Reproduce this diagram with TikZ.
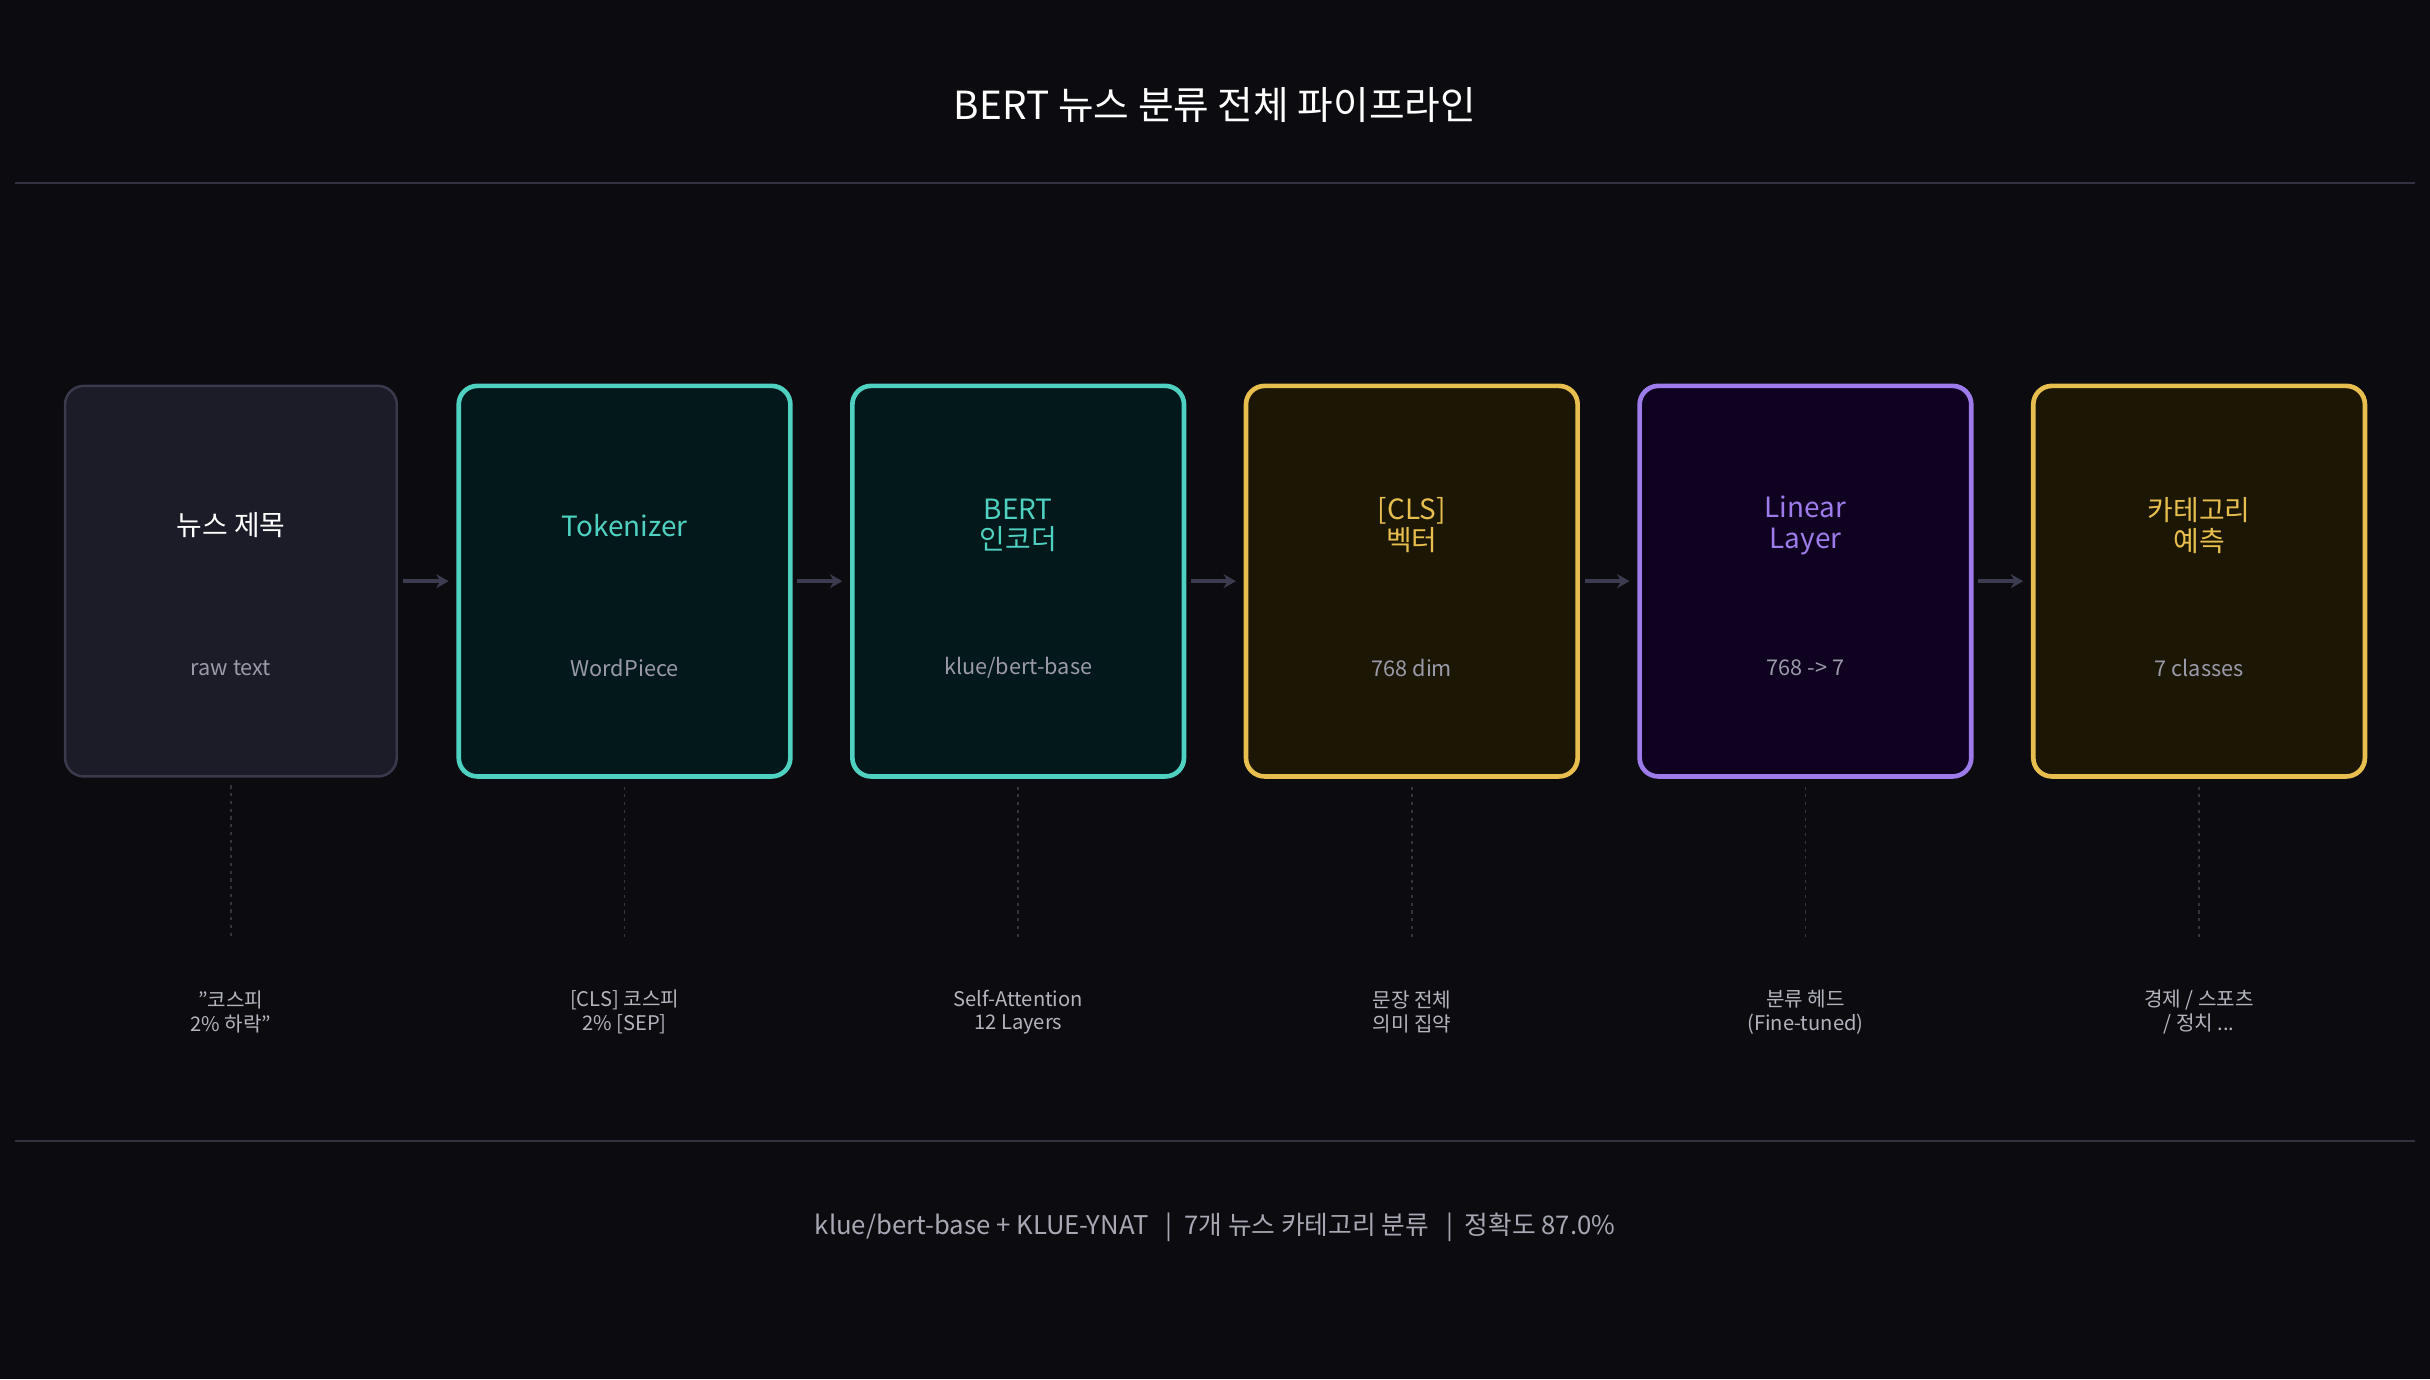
\documentclass[tikz,border=0pt]{standalone}
\usepackage{fontspec}
\setmainfont{Noto Sans CJK KR}
\usetikzlibrary{arrows.meta}
\definecolor{bgc}{HTML}{0B0B10}
\definecolor{rulec}{HTML}{33333F}
\definecolor{grayfill}{HTML}{1C1C28}
\definecolor{grayedge}{HTML}{3A3A4C}
\definecolor{tealc}{HTML}{4FD1C1}
\definecolor{tealfill}{HTML}{02181A}
\definecolor{yelc}{HTML}{E8BF4F}
\definecolor{yelfill}{HTML}{1C1705}
\definecolor{purc}{HTML}{9D7BEA}
\definecolor{purfill}{HTML}{0E0220}
\definecolor{subc}{HTML}{9A9AA8}
\definecolor{labc}{HTML}{B4B4BE}
\definecolor{footc}{HTML}{A8A8B4}
\definecolor{arrc}{HTML}{3C3C50}
\definecolor{dotc}{HTML}{34343F}
\tikzset{
  card/.style={rectangle, rounded corners=6pt, minimum width=107pt, minimum height=126pt, inner sep=0pt},
  graycard/.style={card, draw=grayedge, fill=grayfill, line width=0.8pt},
  tealcard/.style={card, draw=tealc, fill=tealfill, line width=1.5pt},
  yelcard/.style={card, draw=yelc, fill=yelfill, line width=1.5pt},
  purcard/.style={card, draw=purc, fill=purfill, line width=1.5pt},
  ttl/.style={align=center, font=\fontsize{9}{10}\selectfont, inner sep=0pt},
  subt/.style={align=center, font=\fontsize{7}{8}\selectfont, text=subc, inner sep=0pt},
  lab/.style={align=center, font=\fontsize{6.5}{7.6}\selectfont, text=labc, inner sep=0pt},
  flow/.style={draw=arrc, line width=1.2pt, -{Stealth[length=4pt,width=4.5pt]}, shorten <=1.5pt, shorten >=2.5pt},
  drop/.style={draw=dotc, line width=0.5pt, dash pattern=on 1pt off 1.5pt},
}
\begin{document}
\begin{tikzpicture}[x=0.5pt, y=-0.5pt]
\fill[bgc] (0,0) rectangle (1568,890);
\useasboundingbox (0,0) rectangle (1568,890);
\node[font=\fontsize{12.5}{14}\selectfont, text=white] (title) at (784,68) {BERT 뉴스 분류 전체 파이프라인};
\coordinate (r1a) at (10,118); \coordinate (r1b) at (1558,118);
\draw[rulec, line width=0.7pt] (r1a) -- (r1b);
\coordinate (r2a) at (10,736); \coordinate (r2b) at (1558,736);
\draw[rulec, line width=0.7pt] (r2a) -- (r2b);

\node[graycard] (b1) at (149,375) {};
\node[tealcard] (b2) at (403,375) {};
\node[tealcard] (b3) at (657,375) {};
\node[yelcard]  (b4) at (911,375) {};
\node[purcard]  (b5) at (1165,375) {};
\node[yelcard]  (b6) at (1419,375) {};

\node[ttl, text=white] (t1) at (149,339) {뉴스 제목};
\node[ttl, text=tealc] (t2) at (403,339) {Tokenizer};
\node[ttl, text=tealc] (t3) at (657,339) {BERT\\인코더};
\node[ttl, text=yelc]  (t4) at (911,339) {[CLS]\\벡터};
\node[ttl, text=purc]  (t5) at (1165,339) {Linear\\Layer};
\node[ttl, text=yelc]  (t6) at (1419,339) {카테고리\\예측};

\node[subt] (s1) at (149,431) {raw text};
\node[subt] (s2) at (403,431) {WordPiece};
\node[subt] (s3) at (657,431) {klue/bert-base};
\node[subt] (s4) at (911,431) {768 dim};
\node[subt] (s5) at (1165,431) {768 -> 7};
\node[subt] (s6) at (1419,431) {7 classes};

\draw[flow] (b1) -- (b2);
\draw[flow] (b2) -- (b3);
\draw[flow] (b3) -- (b4);
\draw[flow] (b4) -- (b5);
\draw[flow] (b5) -- (b6);

\node[lab] (l1) at (149,653) {"코스피\\2\% 하락"};
\node[lab] (l2) at (403,653) {[CLS] 코스피\\2\% [SEP]};
\node[lab] (l3) at (657,653) {Self-Attention\\12 Layers};
\node[lab] (l4) at (911,653) {문장 전체\\의미 집약};
\node[lab] (l5) at (1165,653) {분류 헤드\\(Fine-tuned)};
\node[lab] (l6) at (1419,653) {경제 / 스포츠\\/ 정치 ...};

\foreach \i/\x in {1/149,2/403,3/657,4/911,5/1165,6/1419}{
  \coordinate (d\i) at (\x,605);
  \draw[drop, shorten <=2.5pt] (b\i.south) -- (d\i);
}

\node[font=\fontsize{8.3}{10}\selectfont, text=footc] (foot) at (784,792) {klue/bert-base + KLUE-YNAT \ \ |\ \ 7개 뉴스 카테고리 분류 \ \ |\ \ 정확도 87.0\%};
\end{tikzpicture}
\end{document}
